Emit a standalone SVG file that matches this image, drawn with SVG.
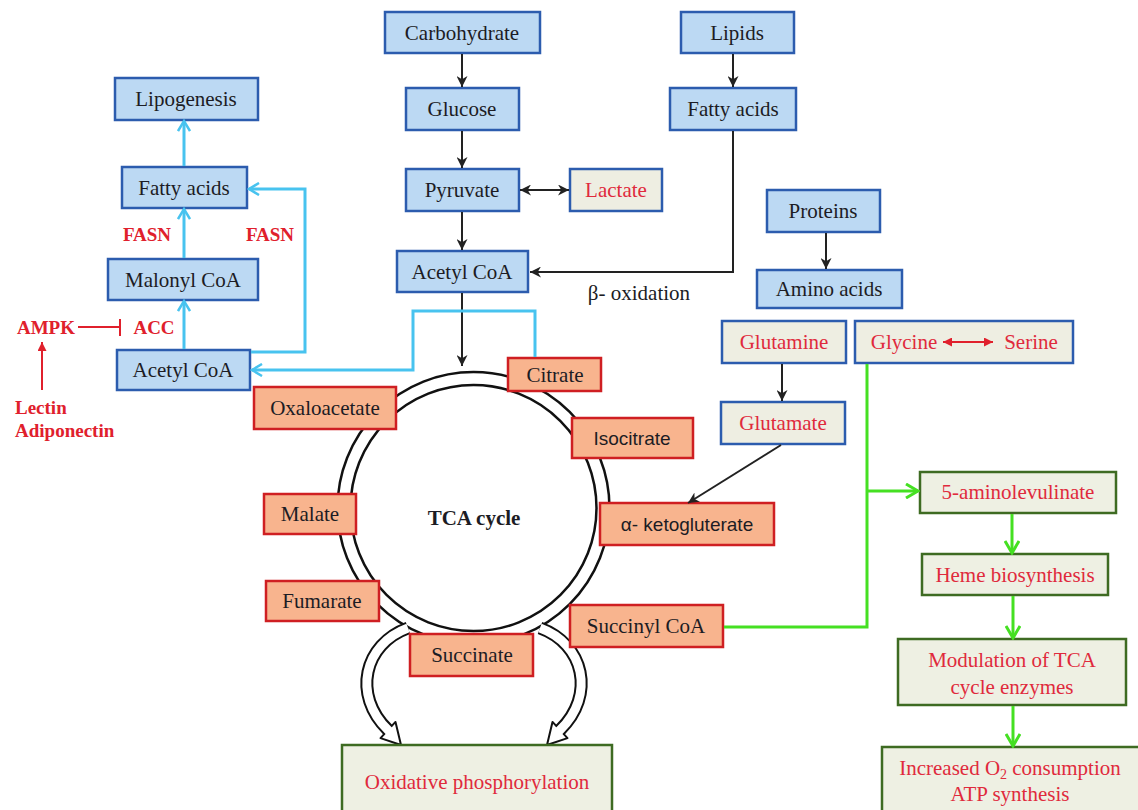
<svg xmlns="http://www.w3.org/2000/svg" width="1138" height="810" viewBox="0 0 1138 810">
<style>
.bb{fill:#bcd9f3;stroke:#2c5cae;stroke-width:2.5}
.bg{fill:#eeeee2;stroke:#2c5cae;stroke-width:2.5}
.ob{fill:#f8b48e;stroke:#cf1f22;stroke-width:2.5}
.gb{fill:#eef0e3;stroke:#3e6b22;stroke-width:2.5}
text{font-family:"Liberation Serif","Times New Roman",serif;font-size:21px;text-anchor:middle}
.tk{fill:#1c1c24}
.tr{fill:#e02a3c}
.ts{font-family:"Liberation Sans",Arial,sans-serif;font-size:19px}
.lb{fill:#e0202c;font-weight:bold;font-size:19px}
.k{stroke:#222;stroke-width:2;fill:none}
.c{stroke:#48c3ef;stroke-width:3;fill:none}
.g{stroke:#45e022;stroke-width:3;fill:none}
.r{stroke:#e0202c;stroke-width:2;fill:none}
</style>
<defs>
<marker id="ak" viewBox="0 0 10 10" refX="10" refY="5" markerWidth="11" markerHeight="11" markerUnits="userSpaceOnUse" orient="auto-start-reverse"><path d="M0,0 L10,5 L0,10 L3,5 z" fill="#222"/></marker>
<marker id="ac" viewBox="0 0 14 14" refX="12" refY="7" markerWidth="14" markerHeight="14" markerUnits="userSpaceOnUse" orient="auto"><path d="M2,1 L12,7 L2,13" fill="none" stroke="#48c3ef" stroke-width="2.5"/></marker>
<marker id="ag" viewBox="0 0 16 16" refX="14" refY="8" markerWidth="16" markerHeight="16" markerUnits="userSpaceOnUse" orient="auto"><path d="M2,1 L14,8 L2,15" fill="none" stroke="#45e022" stroke-width="3"/></marker>
<marker id="ar" viewBox="0 0 10 10" refX="10" refY="5" markerWidth="9" markerHeight="9" markerUnits="userSpaceOnUse" orient="auto-start-reverse"><path d="M0,0 L10,5 L0,10 z" fill="#e0202c"/></marker>
</defs>
<rect width="1138" height="810" fill="#fff"/>

<!-- TCA ring -->
<g id="tca-ring">
<circle cx="473.5" cy="508" r="136" fill="none" stroke="#111" stroke-width="2.5"/>
<circle cx="473.5" cy="508" r="123" fill="#fff" stroke="#111" stroke-width="2.5"/>
<text x="474" y="525" class="tk" style="font-weight:bold">TCA cycle</text>
</g>

<!-- hollow curved arrows to oxidative phosphorylation -->
<g id="ox-arrows">
<g id="ox-arrow-left">
<path d="M408,628 C364,644 352,695 388,730" fill="none" stroke="#111" stroke-width="13"/>
<polygon points="401,745 395.5,721.9 380.5,738.1" fill="#fff" stroke="#111" stroke-width="2" stroke-linejoin="round"/>
<path d="M408,628 C364,644 352,695 388,730 L391,733" fill="none" stroke="#fff" stroke-width="9"/>
</g>
<g id="ox-arrow-right" transform="translate(948,0) scale(-1,1)">
<path d="M408,628 C364,644 352,695 388,730" fill="none" stroke="#111" stroke-width="13"/>
<polygon points="401,745 395.5,721.9 380.5,738.1" fill="#fff" stroke="#111" stroke-width="2" stroke-linejoin="round"/>
<path d="M408,628 C364,644 352,695 388,730 L391,733" fill="none" stroke="#fff" stroke-width="9"/>
</g>
</g>

<!-- lipogenesis branch -->
<g id="lipogenesis"><rect class="bb" x="115" y="78" width="143" height="42"/><text class="tk" x="186" y="106">Lipogenesis</text></g>
<g id="fatty-acids-left"><rect class="bb" x="122" y="167" width="125" height="41"/><text class="tk" x="184" y="195">Fatty acids</text></g>
<g id="malonyl-coa"><rect class="bb" x="108" y="259" width="150" height="41"/><text class="tk" x="183" y="287">Malonyl CoA</text></g>
<g id="acetyl-coa-left"><rect class="bb" x="117" y="350" width="133" height="40"/><text class="tk" x="183" y="377">Acetyl CoA</text></g>

<g id="labels">
<text class="lb" x="147" y="241">FASN</text>
<text class="lb" x="270" y="241">FASN</text>
<text class="lb" x="46" y="334">AMPK</text>
<text class="lb" x="154" y="334">ACC</text>
<text class="lb" x="15" y="414" style="text-anchor:start">Lectin</text>
<text class="lb" x="15" y="437" style="text-anchor:start">Adiponectin</text>
<text class="tk" x="639" y="300">β- oxidation</text>
</g>

<!-- carbohydrate / lipid / protein sources -->
<g id="carbohydrate"><rect class="bb" x="385" y="12" width="155" height="41"/><text class="tk" x="462" y="40">Carbohydrate</text></g>
<g id="glucose"><rect class="bb" x="406" y="88" width="113" height="42"/><text class="tk" x="462" y="116">Glucose</text></g>
<g id="pyruvate"><rect class="bb" x="406" y="169" width="113" height="42"/><text class="tk" x="462" y="197">Pyruvate</text></g>
<g id="lactate"><rect class="bg" x="570" y="169" width="92" height="42"/><text class="tr" x="616" y="197">Lactate</text></g>
<g id="acetyl-coa"><rect class="bb" x="397" y="251" width="131" height="41"/><text class="tk" x="462" y="279">Acetyl CoA</text></g>
<g id="lipids"><rect class="bb" x="681" y="12" width="113" height="41"/><text class="tk" x="737" y="40">Lipids</text></g>
<g id="fatty-acids-right"><rect class="bb" x="670" y="88" width="126" height="42"/><text class="tk" x="733" y="116">Fatty acids</text></g>
<g id="proteins"><rect class="bb" x="767" y="190" width="113" height="42"/><text class="tk" x="823" y="218">Proteins</text></g>
<g id="amino-acids"><rect class="bb" x="757" y="270" width="145" height="38"/><text class="tk" x="829" y="296">Amino acids</text></g>
<g id="glutamine"><rect class="bg" x="722" y="321" width="124" height="42"/><text class="tr" x="784" y="349">Glutamine</text></g>
<g id="glycine-serine"><rect class="bg" x="855" y="321" width="218" height="42"/><text class="tr" x="904" y="349">Glycine</text><text class="tr" x="1031" y="349">Serine</text></g>
<g id="glutamate"><rect class="bg" x="721" y="402" width="124" height="42"/><text class="tr" x="783" y="430">Glutamate</text></g>

<!-- TCA intermediates -->
<g id="citrate"><rect class="ob" x="508" y="358" width="93" height="33"/><text class="tk" x="555" y="382">Citrate</text></g>
<g id="oxaloacetate"><rect class="ob" x="254" y="387" width="142" height="42"/><text class="tk" x="325" y="415">Oxaloacetate</text></g>
<g id="isocitrate"><rect class="ob" x="572" y="418" width="121" height="40"/><text class="tk ts" x="632" y="445">Isocitrate</text></g>
<g id="alpha-ketoglutarate"><rect class="ob" x="600" y="503" width="174" height="42"/><text class="tk ts" x="687" y="531">α- ketogluterate</text></g>
<g id="malate"><rect class="ob" x="264" y="494" width="92" height="40"/><text class="tk" x="310" y="521">Malate</text></g>
<g id="fumarate"><rect class="ob" x="266" y="581" width="113" height="40"/><text class="tk" x="322" y="608">Fumarate</text></g>
<g id="succinate"><rect class="ob" x="410" y="634" width="123" height="42"/><text class="tk" x="472" y="662">Succinate</text></g>
<g id="succinyl-coa"><rect class="ob" x="570" y="605" width="153" height="42"/><text class="tk" x="646" y="633">Succinyl CoA</text></g>

<!-- outcomes -->
<g id="oxidative-phosphorylation"><rect class="gb" x="342" y="745" width="270" height="70"/><text class="tr" x="477" y="789">Oxidative phosphorylation</text></g>
<g id="aminolevulinate"><rect class="gb" x="920" y="472" width="196" height="41"/><text class="tr" x="1018" y="499">5-aminolevulinate</text></g>
<g id="heme-biosynthesis"><rect class="gb" x="922" y="554" width="186" height="41"/><text class="tr" x="1015" y="582">Heme biosynthesis</text></g>
<g id="modulation"><rect class="gb" x="898" y="639" width="228" height="66"/><text class="tr" x="1012" y="667">Modulation of TCA</text><text class="tr" x="1012" y="694">cycle enzymes</text></g>
<g id="increased-o2"><rect class="gb" x="882" y="747" width="262" height="70"/><text class="tr" x="1010" y="775">Increased O<tspan font-size="14" dy="4">2</tspan><tspan dy="-4"> consumption</tspan></text><text class="tr" x="1010" y="801">ATP synthesis</text></g>

<!-- connectors -->
<g id="connectors">
<line class="k" x1="462" y1="54" x2="462" y2="87" marker-end="url(#ak)"/>
<line class="k" x1="462" y1="131" x2="462" y2="168" marker-end="url(#ak)"/>
<line class="k" x1="520" y1="190" x2="569" y2="190" marker-start="url(#ak)" marker-end="url(#ak)"/>
<line class="k" x1="462" y1="212" x2="462" y2="250" marker-end="url(#ak)"/>
<line class="k" x1="733" y1="54" x2="733" y2="87" marker-end="url(#ak)"/>
<polyline class="k" points="733,131 733,272 530,272" marker-end="url(#ak)"/>
<line class="k" x1="462" y1="293" x2="462" y2="366" marker-end="url(#ak)"/>
<line class="k" x1="826" y1="233" x2="826" y2="269" marker-end="url(#ak)"/>
<line class="k" x1="782" y1="364" x2="782" y2="401" marker-end="url(#ak)"/>
<line class="k" x1="781" y1="445" x2="688" y2="503" marker-end="url(#ak)"/>

<line class="c" x1="184" y1="349" x2="184" y2="301" marker-end="url(#ac)"/>
<line class="c" x1="184" y1="258" x2="184" y2="209" marker-end="url(#ac)"/>
<line class="c" x1="184" y1="166" x2="184" y2="121" marker-end="url(#ac)"/>
<polyline class="c" points="251,352 305,352 305,189 249,189" marker-end="url(#ac)"/>
<polyline class="c" points="535,357 535,311 413,311 413,370 252,370" marker-end="url(#ac)"/>

<polyline class="g" points="724,627 867,627 867,364"/>
<line class="g" x1="867" y1="491" x2="918" y2="491" marker-end="url(#ag)"/>
<line class="g" x1="1012" y1="514" x2="1012" y2="553" marker-end="url(#ag)"/>
<line class="g" x1="1013" y1="596" x2="1013" y2="638" marker-end="url(#ag)"/>
<line class="g" x1="1013" y1="706" x2="1013" y2="746" marker-end="url(#ag)"/>

<line class="r" x1="78" y1="327" x2="120" y2="327"/>
<line class="r" x1="120" y1="319" x2="120" y2="336" stroke-width="2.5"/>
<line class="r" x1="42" y1="390" x2="42" y2="342" marker-end="url(#ar)"/>
<line class="r" x1="943" y1="342" x2="993" y2="342" stroke-width="1.8" marker-start="url(#ar)" marker-end="url(#ar)"/>
</g>
</svg>
